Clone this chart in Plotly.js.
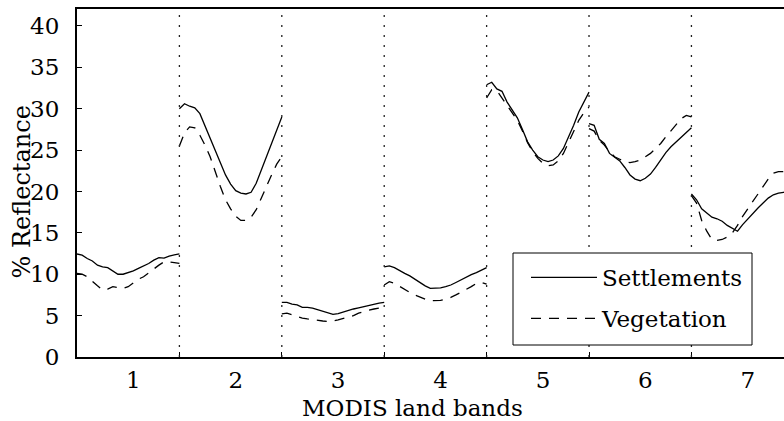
<!DOCTYPE html>
<html>
<head>
<meta charset="utf-8">
<script src="https://cdn.plot.ly/plotly-3.0.1.min.js"></script>
<style>html,body{margin:0;padding:0;background:#fff;}#chart{width:784px;height:421px;}</style>
</head>
<body>
<div id="chart"></div>
<script>
// MODIS land band labels
const bandLabels = ['1', '2', '3', '4', '5', '6', '7'];
const seriesNames = ['Settlements', 'Vegetation'];

// % reflectance profile within each band (21 samples per band)
const settlements = [
  [12.45, 12.3, 11.9, 11.6, 11.1, 10.9, 10.8, 10.4, 10.0, 10.0, 10.2, 10.4, 10.7, 11.0, 11.3, 11.7, 12.0, 11.95, 12.2, 12.35, 12.45],
  [30.0, 30.6, 30.3, 30.1, 29.4, 27.9, 26.3, 24.9, 23.3, 22.0, 20.9, 20.1, 19.8, 19.7, 19.9, 21.0, 22.6, 24.2, 25.9, 27.6, 29.0],
  [6.6, 6.6, 6.4, 6.3, 6.0, 6.0, 5.9, 5.7, 5.5, 5.3, 5.15, 5.25, 5.45, 5.6, 5.8, 5.95, 6.1, 6.2, 6.35, 6.5, 6.6],
  [10.9, 11.0, 10.8, 10.5, 10.1, 9.8, 9.4, 8.9, 8.6, 8.3, 8.3, 8.35, 8.5, 8.7, 9.0, 9.3, 9.7, 9.95, 10.2, 10.5, 10.8],
  [32.9, 33.2, 32.4, 32.1, 30.8, 29.8, 28.9, 27.5, 26.0, 25.0, 24.2, 23.8, 23.6, 23.8, 24.3, 25.2, 26.5, 28.0, 29.6, 30.9, 32.0],
  [28.2, 28.0, 26.3, 25.8, 24.6, 24.1, 23.7, 22.9, 22.0, 21.5, 21.3, 21.6, 22.1, 22.9, 23.8, 24.7, 25.4, 26.0, 26.5, 27.1, 27.7],
  [19.7, 19.0, 17.9, 17.4, 16.9, 16.7, 16.4, 15.9, 15.5, 15.2, 16.0, 16.7, 17.3, 18.0, 18.6, 19.2, 19.6, 19.8, 19.9, 20.0, 20.0]
];
const vegetation = [
  [10.1, 10.0, 9.7, 9.1, 8.6, 8.1, 8.2, 8.5, 8.4, 8.3, 8.5, 9.0, 9.4, 9.7, 10.2, 10.6, 11.1, 11.5, 11.5, 11.4, 11.3],
  [25.5, 27.1, 27.8, 27.7, 26.8, 25.6, 24.2, 22.3, 20.6, 19.0, 17.9, 17.0, 16.5, 16.5, 16.9, 17.8, 19.1, 20.6, 22.0, 23.3, 24.2],
  [5.2, 5.3, 5.1, 4.9, 4.7, 4.6, 4.5, 4.4, 4.35, 4.3, 4.35, 4.5, 4.65, 4.8, 5.0, 5.3, 5.5, 5.65, 5.8, 5.9, 5.9],
  [8.7, 9.1, 8.9, 8.5, 8.1, 7.8, 7.5, 7.2, 7.0, 6.8, 6.8, 6.85, 7.0, 7.2, 7.5, 7.8, 8.1, 8.5, 8.9, 9.0, 8.8],
  [31.3, 32.3, 32.2, 31.3, 30.4, 29.6, 28.6, 27.3, 25.9, 24.8, 24.0, 23.4, 23.1, 23.2, 23.7, 24.6, 25.9, 27.2, 28.6, 29.5, 30.2],
  [27.6, 27.3, 26.2, 25.6, 24.8, 24.2, 23.9, 23.6, 23.5, 23.6, 23.8, 24.2, 24.6, 25.2, 25.8, 26.6, 27.3, 28.1, 28.8, 29.2, 29.0],
  [19.5, 18.6, 16.5, 15.2, 14.2, 14.1, 14.2, 14.5, 15.0, 15.9, 17.0, 17.9, 18.7, 19.6, 20.6, 21.5, 22.2, 22.4, 22.4, 22.5, 22.5]
];

// y tick values
const yTicks = [0, 5, 10, 15, 20, 25, 30, 35, 40];

function buildXY(bands) {
  const xs = [], ys = [];
  bands.forEach((vals, b) => {
    const n = vals.length;
    vals.forEach((v, i) => { xs.push(b + 0.5 + i / (n - 1)); ys.push(v); });
    xs.push(null); ys.push(null);
  });
  return {xs, ys};
}

const s = buildXY(settlements);
const v = buildXY(vegetation);
const FONT = 'DejaVu Serif';
const FS = 23;

const traces = [
  {x: s.xs, y: s.ys, name: seriesNames[0], type: 'scatter', mode: 'lines', connectgaps: false,
   legendgroup: 'a', line: {color: '#000', width: 1.3}},
  {x: v.xs, y: v.ys, name: seriesNames[1], type: 'scatter', mode: 'lines', connectgaps: false,
   legendgroup: 'b', line: {color: '#000', width: 1.3, dash: '10px,8px'}},
  // invisible helper trace for band labels axis
  {x: [1, 7], y: [0, 0], xaxis: 'x2', yaxis: 'y', mode: 'markers', marker: {opacity: 0}, showlegend: false, hoverinfo: 'skip'}
];

const boundaries = bandLabels.slice(1).map((_, i) => i + 1.5);
const shapes = boundaries.map(b => ({
  type: 'line', xref: 'x', yref: 'paper', x0: b, x1: b, y0: 0, y1: 1,
  line: {color: '#222', width: 1.3, dash: '2px,8px'}
}));
// legend frame
const px2x = p => (p - 77) / 707;
const px2y = p => (357 - p) / 348;
shapes.push({type: 'rect', xref: 'paper', yref: 'paper', x0: px2x(513), x1: px2x(752), y0: px2y(345), y1: px2y(253),
  line: {color: '#000', width: 1}, fillcolor: '#fff', layer: 'above'});

const X_MAX = 7.404;
const layout = {
  width: 784, height: 421,
  margin: {l: 77, r: 0, t: 9, b: 64, pad: 0},
  paper_bgcolor: '#fff', plot_bgcolor: '#fff',
  font: {family: FONT, size: FS, color: '#000'},
  showlegend: true,
  xaxis: {
    range: [0.5, X_MAX], showgrid: false, zeroline: false,
    showline: true, mirror: true, linecolor: '#000', linewidth: 2,
    tickmode: 'array', tickvals: boundaries, ticks: 'inside', ticklen: 5, tickcolor: '#000',
    showticklabels: false
  },
  xaxis2: {
    overlaying: 'x', anchor: 'y', side: 'bottom',
    range: [0.5, X_MAX], showgrid: false, zeroline: false, showline: false,
    tickmode: 'array', tickvals: bandLabels.map((_, i) => i + 1.05), ticktext: bandLabels,
    ticks: '', ticklabelstandoff: 7, tickfont: {family: FONT, size: FS, color: '#000'}
  },
  yaxis: {
    range: [0, 42.05], showgrid: false, zeroline: false,
    showline: true, linecolor: '#000', linewidth: 2,
    tickmode: 'array', tickvals: yTicks, ticks: 'inside', ticklen: 5, tickcolor: '#000',
    ticklabelstandoff: 11, tickfont: {family: FONT, size: FS, color: '#000'}
  },
  legend: {
    x: px2x(526), y: px2y(256), xanchor: 'left', yanchor: 'top',
    bgcolor: 'rgba(0,0,0,0)', borderwidth: 0,
    font: {family: FONT, size: FS, color: '#000'},
    itemwidth: 66, traceorder: 'grouped', tracegroupgap: 8
  },
  shapes: shapes,
  annotations: [
    {text: 'MODIS land bands', xref: 'paper', yref: 'paper', x: px2x(412), y: px2y(408),
     xanchor: 'center', yanchor: 'middle', showarrow: false, font: {family: FONT, size: FS, color: '#000'}},
    {text: '% Reflectance', xref: 'paper', yref: 'paper', x: px2x(21), y: px2y(192.5),
     xanchor: 'center', yanchor: 'middle', textangle: -90, showarrow: false, font: {family: FONT, size: 24, color: '#000'}}
  ]
};

Plotly.newPlot('chart', traces, layout, {staticPlot: true, displayModeBar: false});
</script>
</body>
</html>
